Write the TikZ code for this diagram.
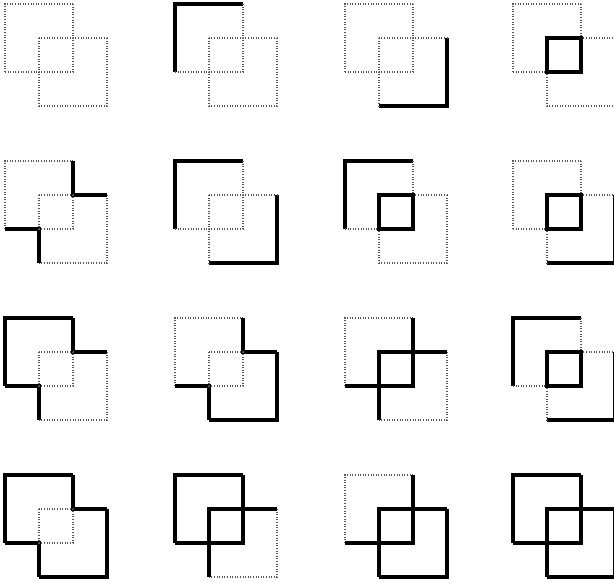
\documentclass[tikz,border=0pt]{standalone}
\usepackage{tikz}
\usetikzlibrary{calc}
\tikzset{>=latex}
% the two kinds of boundary piece
\tikzset{edgeon/.style={line width=3.4pt, line join=miter, black}}
\tikzset{edgeoff/.style={line width=1.2pt, dash pattern=on 1pt off 1.6pt, black!65}}

\begin{document}
\begin{tikzpicture}[x=1pt, y=-1pt]
  \useasboundingbox (0,0) rectangle (614,582);
  \clip (0,0) rectangle (614,582);
  % x / y / outer corner of A / outer corner of B / inner square / stubs
  \foreach \px/\py/\oa/\ob/\sq/\st in {
      5/4/edgeoff/edgeoff/edgeoff/edgeoff,
      175/4/edgeon/edgeoff/edgeoff/edgeoff,
      345/4/edgeoff/edgeon/edgeoff/edgeoff,
      513/4/edgeoff/edgeoff/edgeon/edgeoff,
      5/161/edgeoff/edgeoff/edgeoff/edgeon,
      175/161/edgeon/edgeon/edgeoff/edgeoff,
      345/161/edgeon/edgeoff/edgeon/edgeoff,
      513/161/edgeoff/edgeon/edgeon/edgeoff,
      5/318/edgeon/edgeoff/edgeoff/edgeon,
      175/318/edgeoff/edgeon/edgeoff/edgeon,
      345/318/edgeoff/edgeoff/edgeon/edgeon,
      513/318/edgeon/edgeon/edgeon/edgeoff,
      5/475/edgeon/edgeon/edgeoff/edgeon,
      175/475/edgeon/edgeoff/edgeon/edgeon,
      345/475/edgeoff/edgeon/edgeon/edgeon,
      513/475/edgeon/edgeon/edgeon/edgeon}
  {
    \begin{scope}[shift={(\px,\py)}]
      \draw[\oa] (0,68) -- (0,0) -- (68,0);
      \draw[\ob] (102,34) -- (102,102) -- (34,102);
      \draw[\st] (68,0) -- (68,34) -- (102,34);
      \draw[\st] (0,68) -- (34,68) -- (34,102);
      \draw[\sq] (34,34) rectangle (68,68);
    \end{scope}
  }
\end{tikzpicture}
\end{document}
